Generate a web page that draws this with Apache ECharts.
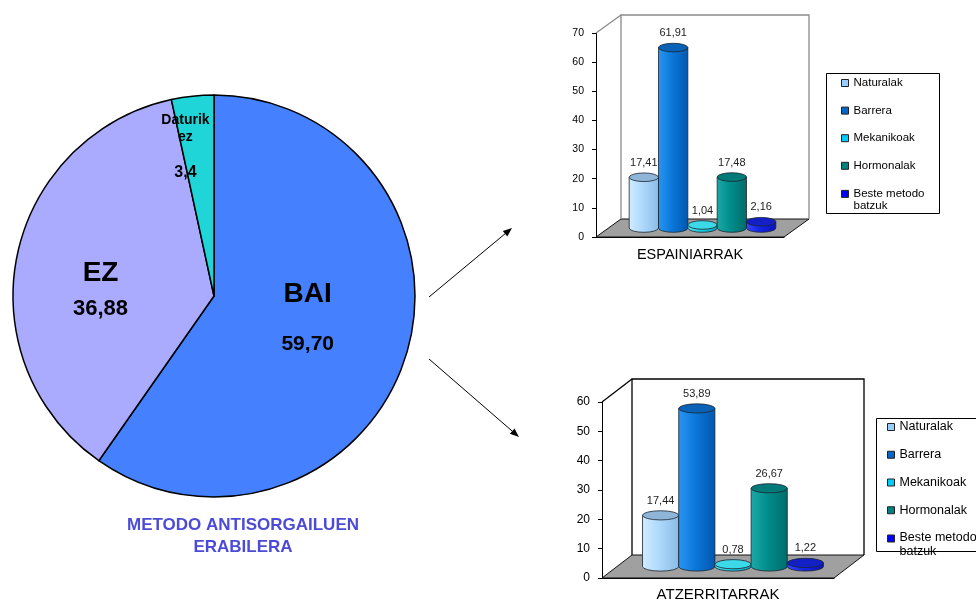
<!DOCTYPE html>
<html>
<head>
<meta charset="utf-8">
<script src="https://cdn.jsdelivr.net/npm/echarts@6/dist/echarts.min.js"></script>
<style>
  html, body { margin: 0; padding: 0; background: #fff; }
  #main { width: 976px; height: 601px; }
</style>
</head>
<body>
<div id="main"></div>
<script>
// ---- data ----
const pieNames = ['BAI', 'EZ', 'Daturik ez'];
const pieValues = [59.70, 36.88, 3.4];
const pieDecimals = [2, 2, 1];
const pieTitle = 'METODO ANTISORGAILUEN\nERABILERA';

const methods = ['Naturalak', 'Barrera', 'Mekanikoak', 'Hormonalak', 'Beste metodo batzuk'];
const groups = ['ESPAINIARRAK', 'ATZERRITARRAK'];
const spainValues = [17.41, 61.91, 1.04, 17.48, 2.16];
const foreignValues = [17.44, 53.89, 0.78, 26.67, 1.22];
const axisMax = [70, 60];
const axisStep = 10;

// ---- styling ----
const FONT = '"Liberation Sans", Arial, sans-serif';
const pieColors = ['#4580FF', '#AAAAFF', '#20D5D8'];
const PIE_CENTER = [214, 296];
const PIE_RADIUS = 201;

const cylPalette = [
  { legend: '#99CCFF', light: '#D2ECFF', mid: '#AFD9FD', dark: '#8ABBE4', top: '#8FB6D8' },
  { legend: '#0066CC', light: '#2A95F2', mid: '#0B78DA', dark: '#0057AE', top: '#0A62B6' },
  { legend: '#00CCFF', light: '#5AE6F2', mid: '#1CCBDD', dark: '#0CA4BC', top: '#3CD9E8' },
  { legend: '#008080', light: '#1CA8A6', mid: '#008E8C', dark: '#006B6A', top: '#007A78' },
  { legend: '#0000FF', light: '#3348FF', mid: '#1424E6', dark: '#0A14B8', top: '#1220C6' }
];

// 3D look of each cylinder panel: depth offset of the back wall and ellipse height
const panel = [
  { dx: 25, dy: -18, ry: 4.3, wall: '#8A8A8A', tickSize: 10.5, catSize: 14.5, legendSize: 11.5, legendLH: 13 },
  { dx: 30, dy: -23, ry: 4.6, wall: '#000000', tickSize: 12, catSize: 15, legendSize: 12.5, legendLH: 14 }
];

const fmt = (v, d) => v.toFixed(d).replace('.', ',');

function cylinderRender(p, methodIdx) {
  const cfg = panel[p];
  return function (params, api) {
    const v = api.value(1);
    const top = api.coord([0, v]);
    const base = api.coord([0, 0]);
    const band = api.size([1, 0])[0];
    const cluster = band * 0.78;
    const w = cluster / methods.length;
    const cx = top[0] - cluster / 2 + (methodIdx + 0.5) * w + cfg.dx / 2;
    const yt = top[1] + cfg.dy / 2;
    const yb = base[1] + cfg.dy / 2;
    const rx = w / 2, ry = cfg.ry;
    const xl = cx - rx, xr = cx + rx;
    const pal = cylPalette[methodIdx];
    const body = new echarts.graphic.LinearGradient(0, 0, 1, 0, [
      { offset: 0, color: pal.light },
      { offset: 0.45, color: pal.mid },
      { offset: 1, color: pal.dark }
    ]);
    return {
      type: 'group',
      children: [
        {
          type: 'path',
          shape: { pathData: `M${xl} ${yt}L${xl} ${yb}A${rx} ${ry} 0 0 0 ${xr} ${yb}L${xr} ${yt}Z` },
          style: { fill: body, stroke: '#1c2530', lineWidth: 0.8 }
        },
        {
          type: 'path',
          shape: { pathData: `M${xl} ${yt}A${rx} ${ry} 0 1 0 ${xr} ${yt}A${rx} ${ry} 0 1 0 ${xl} ${yt}Z` },
          style: { fill: pal.top, stroke: '#1c2530', lineWidth: 0.8 }
        },
        {
          type: 'text',
          x: cx, y: yt - ry - 10,
          style: {
            text: fmt(v, 2), align: 'center', verticalAlign: 'middle',
            fontSize: 11, fontFamily: FONT, fill: '#222'
          }
        }
      ]
    };
  };
}

function wallRender(p) {
  const cfg = panel[p];
  return function (params) {
    const cs = params.coordSys;
    const x = cs.x, y = cs.y, w = cs.width, h = cs.height;
    const dx = cfg.dx, dy = cfg.dy;
    return {
      type: 'group',
      children: [
        {
          type: 'polygon',
          shape: { points: [[x, y + h], [x + w, y + h], [x + w + dx, y + h + dy], [x + dx, y + h + dy]] },
          style: { fill: '#A0A0A0', stroke: '#111', lineWidth: 1 }
        },
        {
          type: 'polyline',
          shape: { points: [[x + dx, y + h + dy], [x + dx, y + dy], [x + w + dx, y + dy], [x + w + dx, y + h + dy]] },
          style: { fill: null, stroke: cfg.wall, lineWidth: 1.3 }
        },
        {
          type: 'line',
          shape: { x1: x, y1: y, x2: x + dx, y2: y + dy },
          style: { stroke: cfg.wall, lineWidth: 1.3 }
        }
      ]
    };
  };
}

const series = [];
[spainValues, foreignValues].forEach((vals, p) => {
  series.push({
    type: 'custom', name: 'wall' + p, xAxisIndex: p, yAxisIndex: p,
    data: [[0, 0]], renderItem: wallRender(p), clip: false, silent: true, z: 1
  });
  methods.forEach((m, i) => {
    series.push({
      type: 'custom', name: m, xAxisIndex: p, yAxisIndex: p,
      data: [[0, vals[i]]], encode: { x: 0, y: 1 },
      renderItem: cylinderRender(p, i), clip: false, silent: true, z: 3,
      itemStyle: { color: cylPalette[i].legend }
    });
  });
});

// pie labels
const pieLabelCfg = [
  { nameSize: 28, valSize: 21, lh: 50, gap: false, offset: [-5, -8] },
  { nameSize: 28, valSize: 22, lh: 35, gap: false, offset: [-12, 15.5] },
  { nameSize: 14, valSize: 16, lh: 17.5, gap: true, offset: [-17.5, -47] }
];
series.push({
  type: 'pie',
  center: PIE_CENTER,
  radius: PIE_RADIUS,
  startAngle: 90,
  clockwise: true,
  silent: true,
  avoidLabelOverlap: false,
  itemStyle: { borderColor: '#000', borderWidth: 1.5 },
  labelLine: { show: false },
  data: pieNames.map((n, i) => {
    const c = pieLabelCfg[i];
    const nameLines = c.gap ? n.split(' ').map(s => `{n|${s}}`).join('\n') + '\n{s| }' : `{n|${n}}`;
    return {
      name: n,
      value: pieValues[i],
      itemStyle: { color: pieColors[i] },
      label: {
        show: true,
        position: 'inside',
        offset: c.offset,
        formatter: nameLines + `\n{v|${fmt(pieValues[i], pieDecimals[i])}}`,
        rich: {
          n: { fontSize: c.nameSize, fontWeight: 'bold', lineHeight: c.lh, color: '#000', fontFamily: FONT, align: 'center' },
          v: { fontSize: c.valSize, fontWeight: 'bold', lineHeight: c.lh, color: '#000', fontFamily: FONT, align: 'center' },
          s: { fontSize: 10, lineHeight: c.lh }
        }
      }
    };
  })
});

// heavier divider between the last two slices
const total = pieValues.reduce((a, b) => a + b, 0);
const divAngle = 2 * Math.PI * (pieValues[0] + pieValues[1]) / total;
const divider = {
  type: 'line', z: 2, z2: 0.5,
  shape: {
    x1: PIE_CENTER[0], y1: PIE_CENTER[1],
    x2: PIE_CENTER[0] + PIE_RADIUS * Math.sin(divAngle),
    y2: PIE_CENTER[1] - PIE_RADIUS * Math.cos(divAngle)
  },
  style: { stroke: '#000', lineWidth: 3.5 }
};

function arrow(x1, y1, x2, y2) {
  const a = Math.atan2(y2 - y1, x2 - x1);
  const L = 9, W = 3.5;
  const bx = x2 - L * Math.cos(a), by = y2 - L * Math.sin(a);
  return [
    { type: 'line', shape: { x1, y1, x2: bx, y2: by }, style: { stroke: '#000', lineWidth: 1 } },
    {
      type: 'polygon',
      shape: { points: [[x2, y2], [bx - W * Math.sin(a), by + W * Math.cos(a)], [bx + W * Math.sin(a), by - W * Math.cos(a)]] },
      style: { fill: '#000' }
    }
  ];
}

// long legend names wrap onto a second line that hangs below the icon row
const wrapName = name => name.length > 14 ? name.replace(/^(.*) (\S+)$/, '{a|$1}\n{b|$2}') : name;

function legendOpt(p, left, top, gap) {
  const cfg = panel[p];
  const fs = cfg.legendSize, lh = cfg.legendLH;
  return {
    orient: 'vertical', left, top, padding: 0,
    itemWidth: 7, itemHeight: 7, itemGap: gap, icon: 'rect',
    selectedMode: false,
    itemStyle: { borderColor: '#222', borderWidth: 1 },
    textStyle: {
      fontSize: fs, lineHeight: lh, color: '#000', fontFamily: FONT,
      rich: {
        a: { fontSize: fs, lineHeight: lh, color: '#000', fontFamily: FONT },
        b: { fontSize: fs, lineHeight: 1, verticalAlign: 'top', color: '#000', fontFamily: FONT }
      }
    },
    formatter: wrapName,
    data: methods
  };
}

const option = {
  backgroundColor: '#fff',
  animation: false,
  textStyle: { fontFamily: FONT },
  grid: [
    { left: 596, top: 33, width: 188, height: 204, outerBoundsMode: 'none' },
    { left: 602, top: 402, width: 232, height: 176, outerBoundsMode: 'none' }
  ],
  xAxis: groups.map((g, p) => ({
    type: 'category', gridIndex: p, data: [g],
    axisLine: { show: true, lineStyle: { color: '#000', width: 1 } },
    axisTick: { show: false },
    splitLine: { show: false },
    axisLabel: { fontSize: panel[p].catSize, color: '#000', margin: p === 0 ? 10 : 9, fontFamily: FONT }
  })),
  yAxis: axisMax.map((mx, p) => ({
    type: 'value', gridIndex: p, min: 0, max: mx, interval: axisStep,
    axisLine: { show: true, lineStyle: { color: '#000', width: 1 } },
    axisTick: { show: true, length: 4, lineStyle: { color: '#000' } },
    splitLine: { show: false },
    axisLabel: { fontSize: panel[p].tickSize, color: '#000', margin: 12, fontFamily: FONT }
  })),
  legend: [
    legendOpt(0, 841, 76.5, 14.6),
    legendOpt(1, 887, 420, 13.75)
  ],
  graphic: [
    { type: 'rect', z: -1, shape: { x: 826.5, y: 73.5, width: 113, height: 140 }, style: { fill: '#fff', stroke: '#000', lineWidth: 1 } },
    { type: 'rect', z: -1, shape: { x: 876.5, y: 418.5, width: 110, height: 133 }, style: { fill: '#fff', stroke: '#000', lineWidth: 1 } },
    divider,
    {
      type: 'text', x: 243, y: 536,
      style: {
        text: pieTitle, align: 'center', verticalAlign: 'middle',
        fontSize: 17, fontWeight: 'bold', lineHeight: 21.7, fill: '#4B4BD8', fontFamily: FONT
      }
    },
    ...arrow(429, 297, 512, 228),
    ...arrow(429, 359, 519, 437)
  ],
  series
};

const chart = echarts.init(document.getElementById('main'), null, { renderer: 'canvas' });
chart.setOption(option);
</script>
</body>
</html>
